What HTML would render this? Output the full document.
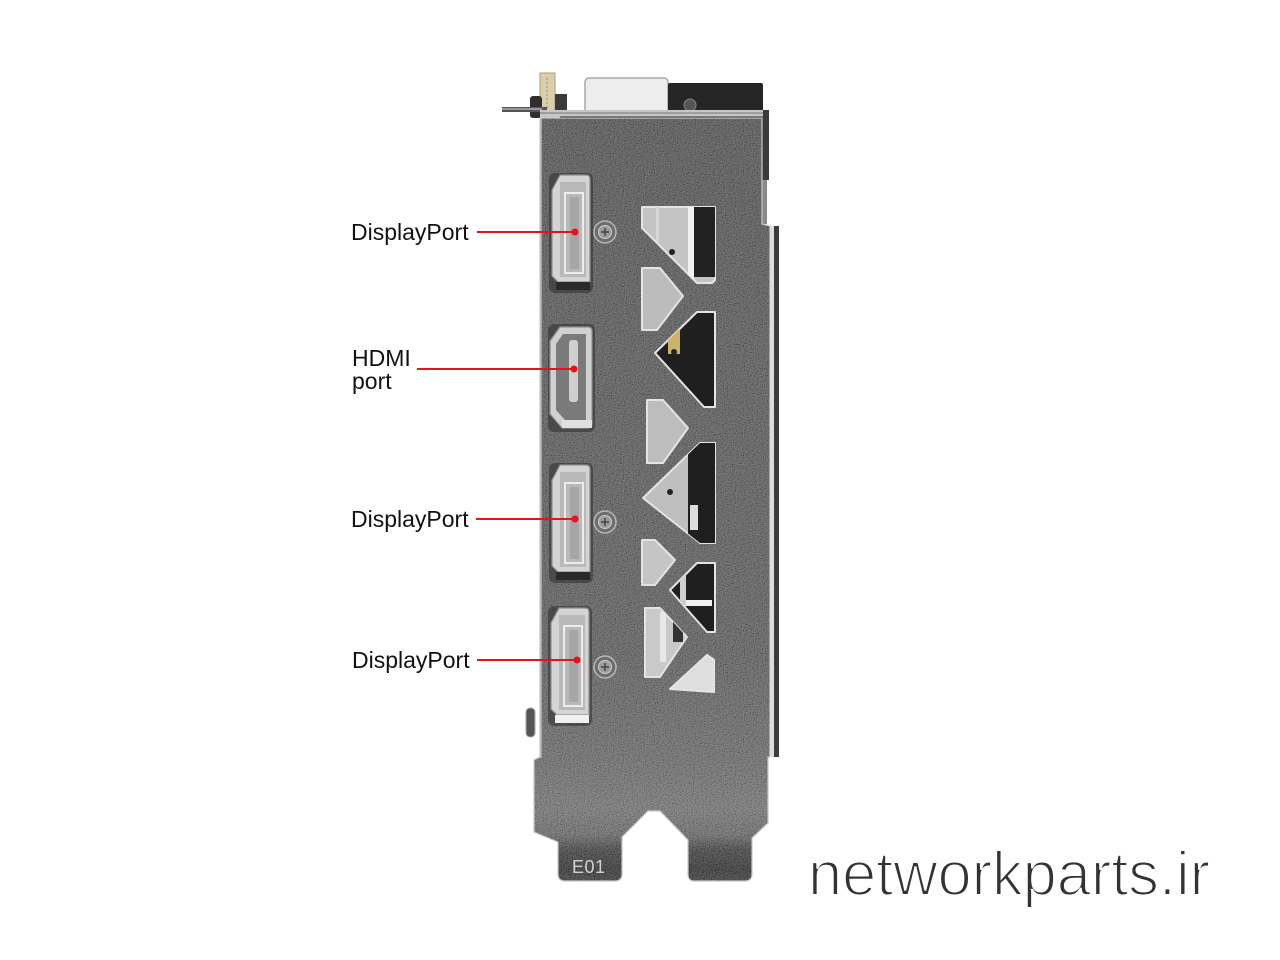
<!DOCTYPE html>
<html><head><meta charset="utf-8">
<style>
html,body{margin:0;padding:0;background:#fff;}
svg{display:block;}
</style></head>
<body>
<svg width="1280" height="960" viewBox="0 0 1280 960" xmlns="http://www.w3.org/2000/svg">
<defs>
  <linearGradient id="body" x1="0" y1="118" x2="0" y2="881" gradientUnits="userSpaceOnUse">
    <stop offset="0" stop-color="#444444"/>
    <stop offset="0.3" stop-color="#4a4a4a"/>
    <stop offset="0.7" stop-color="#4f4f4f"/>
    <stop offset="0.84" stop-color="#5e5e5e"/>
    <stop offset="0.907" stop-color="#6a6a6a"/>
    <stop offset="0.94" stop-color="#5c5c5c"/>
    <stop offset="0.959" stop-color="#303030"/>
    <stop offset="0.985" stop-color="#1e1e1e"/>
    <stop offset="1" stop-color="#2a2a2a"/>
  </linearGradient>
  <filter id="noise" x="0" y="0" width="100%" height="100%">
    <feTurbulence type="fractalNoise" baseFrequency="0.9" numOctaves="2" seed="3"/>
    <feColorMatrix type="saturate" values="0"/>
    <feComponentTransfer>
      <feFuncR type="linear" slope="2.4" intercept="-0.7"/>
      <feFuncG type="linear" slope="2.4" intercept="-0.7"/>
      <feFuncB type="linear" slope="2.4" intercept="-0.7"/>
      <feFuncA type="linear" slope="0" intercept="1"/>
    </feComponentTransfer>
  </filter>
  <clipPath id="bclip">
    <path d="M540,118 L762,118 L762,224 L770,226 L770,757 L768,757 L768,823 L752,838 L752,874 Q752,881 745,881 L694,881 Q688,881 688,874 L688,840 L660,811 L648,811 L622,837 L622,874 Q622,881 615,881 L565,881 Q558,881 558,874 L558,842 L534,832 L534,760 L540,757 Z"/>
  </clipPath>
  <clipPath id="c1"><polygon points="642,207 715,207 715,280 712,283 697,283 642,228"/></clipPath>
  <clipPath id="c3"><polygon points="655,353 697,312 715,312 715,407 704,407"/></clipPath>
  <clipPath id="c5"><polygon points="643,498 700,443 715,443 715,543 700,543"/></clipPath>
  <clipPath id="c7"><polygon points="670,590 697,563 715,563 715,632 707,632"/></clipPath>
  <clipPath id="c8"><polygon points="645,608 660,608 687,637 660,677 645,677"/></clipPath>
</defs>

<rect width="1280" height="960" fill="#fff"/>

<!-- top hardware -->
<rect x="585" y="78" width="83" height="36" rx="4" fill="#ededed" stroke="#a8a8a8" stroke-width="1.5"/>
<rect x="668" y="83" width="95" height="34" rx="2" fill="#262626"/>
<circle cx="690" cy="105" r="6" fill="#555" stroke="#888" stroke-width="1"/>
<rect x="762" y="110" width="7" height="70" fill="#3a3a3a"/>
<rect x="762" y="180" width="5" height="44" fill="#8a8a8a"/>
<rect x="540" y="73" width="15" height="39" fill="#d9cfac" stroke="#a89d78" stroke-width="1"/>
<line x1="547" y1="78" x2="547" y2="108" stroke="#b8ad88" stroke-width="2" stroke-dasharray="2,2"/>
<rect x="555" y="94" width="12" height="20" fill="#3a3a3a"/>
<rect x="530" y="96" width="12" height="22" rx="3" fill="#2e2e2e"/>
<rect x="502" y="107" width="45" height="5" fill="#555"/>
<rect x="502" y="108" width="40" height="2" fill="#999"/>

<!-- bracket body -->
<g clip-path="url(#bclip)">
  <rect x="520" y="110" width="270" height="780" fill="url(#body)"/>
  <rect x="520" y="110" width="270" height="780" filter="url(#noise)" opacity="0.3"/>
  <rect x="538" y="118" width="4" height="640" fill="#b4b4b4" opacity="0.8"/>
</g>
<path d="M540,118 L762,118 L762,224 L770,226 L770,757 L768,757 L768,823 L752,838 L752,874 Q752,881 745,881 L694,881 Q688,881 688,874 L688,840 L660,811 L648,811 L622,837 L622,874 Q622,881 615,881 L565,881 Q558,881 558,874 L558,842 L534,832 L534,760 L540,757 Z" fill="none" stroke="#c8c8c8" stroke-width="1.2"/>
<!-- top lip -->
<rect x="540" y="110" width="223" height="8" fill="#c6c6c6"/>
<line x1="540" y1="113" x2="763" y2="113" stroke="#777" stroke-width="1"/>
<line x1="560" y1="117" x2="763" y2="117" stroke="#4a4a4a" stroke-width="1.2"/>
<!-- right folded edge -->
<rect x="770" y="226" width="4" height="531" fill="#dcdcdc"/>
<rect x="774" y="226" width="5" height="531" fill="#3c3c3c"/>
<!-- small thing on left -->
<rect x="526" y="708" width="9" height="29" rx="4" fill="#555" stroke="#aaa" stroke-width="1"/>

<!-- cutouts -->
<g stroke="#e4e4e4" stroke-width="2" stroke-linejoin="round">
  <polygon points="642,207 715,207 715,280 712,283 697,283 642,228" fill="#c4c4c4"/>
  <polygon points="642,268 660,268 683,296 657,330 642,330" fill="#bcbcbc"/>
  <polygon points="655,353 697,312 715,312 715,407 704,407" fill="#1f1f1f"/>
  <polygon points="647,400 663,400 688,428 663,463 647,463" fill="#bdbdbd"/>
  <polygon points="643,498 700,443 715,443 715,543 700,543" fill="#bfbfbf"/>
  <polygon points="642,540 655,540 675,560 655,585 642,585" fill="#c5c5c5"/>
  <polygon points="670,590 697,563 715,563 715,632 707,632" fill="#1f1f1f"/>
  <polygon points="645,608 660,608 687,637 660,677 645,677" fill="#c9c9c9"/>
  <polygon points="670,689 707,655 714,660 714,692" fill="#dedede"/>
</g>
<g clip-path="url(#c1)">
  <rect x="688" y="207" width="6" height="76" fill="#f2f2f2"/>
  <rect x="694" y="207" width="21" height="70" fill="#222"/>
  <rect x="656" y="207" width="3" height="76" fill="#d8d8d8"/>
  <circle cx="672" cy="252" r="3" fill="#222"/>
</g>
<g clip-path="url(#c3)">
  <rect x="668" y="330" width="12" height="24" fill="#c9b46a"/>
  <circle cx="674" cy="352" r="3" fill="#222"/>
</g>
<g clip-path="url(#c5)">
  <rect x="688" y="443" width="27" height="100" fill="#1f1f1f"/>
  <rect x="690" y="505" width="8" height="25" fill="#ddd"/>
  <circle cx="670" cy="492" r="3" fill="#222"/>
</g>
<g clip-path="url(#c7)">
  <rect x="678" y="600" width="34" height="6" fill="#f0f0f0"/>
  <rect x="680" y="575" width="6" height="30" fill="#cfcfcf"/>
</g>
<g clip-path="url(#c8)">
  <rect x="673" y="620" width="10" height="22" fill="#333"/>
  <rect x="660" y="612" width="6" height="50" fill="#e8e8e8"/>
</g>

<!-- DisplayPort 1 -->
<g>
  <rect x="549" y="173" width="44" height="120" rx="6" fill="#2e2e2e" opacity="0.55"/>
  <path d="M560,175 H586 Q590,175 590,179 V282 H558 L552,276 V190 Z" fill="#d4d4d4" stroke="#8f8f8f" stroke-width="1.2"/>
  <rect x="560" y="182" width="26" height="95" fill="#b9b9b9"/>
  <rect x="565" y="193" width="18" height="80" fill="none" stroke="#ececec" stroke-width="2"/>
  <rect x="570" y="197" width="9" height="72" fill="#a6a6a6"/>
  <rect x="556" y="282" width="34" height="8" fill="#2a2a2a"/>
</g>
<!-- DisplayPort 2 -->
<g transform="translate(0,290)">
  <rect x="549" y="173" width="44" height="120" rx="6" fill="#2e2e2e" opacity="0.55"/>
  <path d="M560,175 H586 Q590,175 590,179 V282 H558 L552,276 V190 Z" fill="#d4d4d4" stroke="#8f8f8f" stroke-width="1.2"/>
  <rect x="560" y="182" width="26" height="95" fill="#b9b9b9"/>
  <rect x="565" y="193" width="18" height="80" fill="none" stroke="#ececec" stroke-width="2"/>
  <rect x="570" y="197" width="9" height="72" fill="#a6a6a6"/>
  <rect x="556" y="282" width="34" height="8" fill="#2a2a2a"/>
</g>
<!-- DisplayPort 3 -->
<g transform="translate(-1,433)">
  <rect x="549" y="173" width="44" height="120" rx="6" fill="#2e2e2e" opacity="0.55"/>
  <path d="M560,175 H586 Q590,175 590,179 V282 H558 L552,276 V190 Z" fill="#d4d4d4" stroke="#8f8f8f" stroke-width="1.2"/>
  <rect x="560" y="182" width="26" height="95" fill="#b9b9b9"/>
  <rect x="565" y="193" width="18" height="80" fill="none" stroke="#ececec" stroke-width="2"/>
  <rect x="570" y="197" width="9" height="72" fill="#a6a6a6"/>
  <rect x="556" y="282" width="34" height="8" fill="#f0f0f0"/>
</g>
<!-- HDMI -->
<g>
  <rect x="548" y="324" width="47" height="108" rx="6" fill="#2e2e2e" opacity="0.55"/>
  <path d="M560,327 H588 Q592,327 592,331 V424 Q592,428 588,428 H562 L550,414 V341 Z" fill="#d0d0d0" stroke="#8f8f8f" stroke-width="1.2"/>
  <path d="M563,334 H586 V420 H565 L556,410 V344 Z" fill="#7a7a7a"/>
  <rect x="569" y="340" width="9" height="62" rx="3" fill="#cfcfcf"/>
  <rect x="562" y="420" width="30" height="8" fill="#e0e0e0"/>
</g>

<!-- screws -->
<g stroke-width="1.5">
  <circle cx="605" cy="232" r="11" fill="#6e6e6e" stroke="#b8b8b8"/>
  <circle cx="605" cy="232" r="6.5" fill="#9c9c9c" stroke="#cfcfcf" stroke-width="1"/>
  <path d="M601,232 H609 M605,228 V236" stroke="#444" stroke-width="1.5"/>
  <circle cx="605" cy="522" r="11" fill="#6e6e6e" stroke="#b8b8b8"/>
  <circle cx="605" cy="522" r="6.5" fill="#9c9c9c" stroke="#cfcfcf" stroke-width="1"/>
  <path d="M601,522 H609 M605,518 V526" stroke="#444" stroke-width="1.5"/>
  <circle cx="605" cy="667" r="11" fill="#6e6e6e" stroke="#b8b8b8"/>
  <circle cx="605" cy="667" r="6.5" fill="#9c9c9c" stroke="#cfcfcf" stroke-width="1"/>
  <path d="M601,667 H609 M605,663 V671" stroke="#444" stroke-width="1.5"/>
</g>

<!-- E01 -->
<text x="572" y="873" font-family="Liberation Sans, sans-serif" font-size="18" fill="#d2d2d2" letter-spacing="0.5">E01</text>

<!-- labels + red pointers -->
<g font-family="Liberation Sans, Arial, sans-serif" font-size="23" fill="#111">
  <text x="351" y="240">DisplayPort</text>
  <text x="352" y="366">HDMI</text>
  <text x="352" y="389">port</text>
  <text x="351" y="527">DisplayPort</text>
  <text x="352" y="668">DisplayPort</text>
</g>
<g stroke="#e3141c" stroke-width="2" fill="#e3141c">
  <line x1="477" y1="232" x2="575" y2="232"/>
  <circle cx="575" cy="232" r="3.5" stroke="none"/>
  <line x1="417" y1="369" x2="574" y2="369"/>
  <circle cx="574" cy="369" r="3.5" stroke="none"/>
  <line x1="476" y1="519" x2="575" y2="519"/>
  <circle cx="575" cy="519" r="3.5" stroke="none"/>
  <line x1="477" y1="660" x2="577" y2="660"/>
  <circle cx="577" cy="660" r="3.5" stroke="none"/>
</g>

<!-- watermark -->
<text x="808" y="895" font-family="Liberation Sans, sans-serif" font-size="62" fill="#333333" stroke="#ffffff" stroke-width="2" textLength="402" lengthAdjust="spacingAndGlyphs">networkparts.ir</text>
</svg>
</body></html>
